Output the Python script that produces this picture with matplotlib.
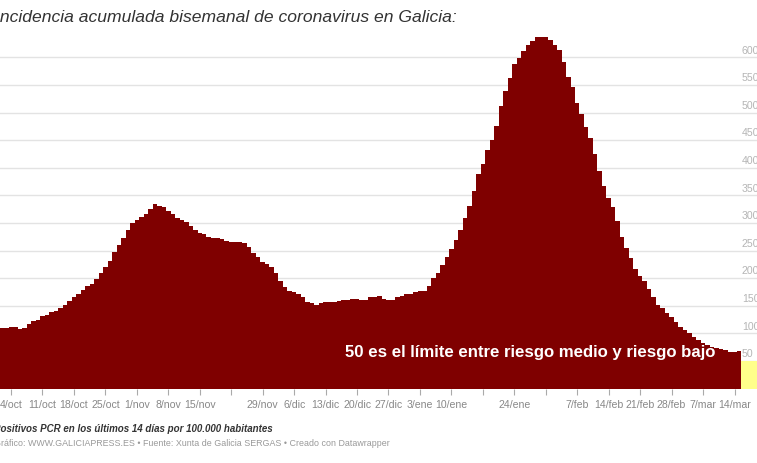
import matplotlib
matplotlib.use("Agg")
import matplotlib.pyplot as plt
import matplotlib.dates as mdates
import pandas as pd

plt.rcParams['font.family'] = ['Liberation Sans', 'DejaVu Sans']

W, H = 757, 463

# daily values, starting 2 Oct 2020
start_date = "2020-10-02"
incidencia = [
    110, 110, 112, 112, 108, 110, 116, 122, 125, 131,   # 2-11 oct
    134, 138, 140, 145, 151, 159, 165, 171, 178, 186,
    189, 199, 209, 221, 231, 247, 260, 272, 287, 299,
    305, 310, 316, 326, 334, 331, 329, 322, 316, 309,
    305, 301, 294, 287, 281, 279, 275, 272, 272, 270,
    267, 265, 265, 265, 263, 257, 245, 238, 230, 226,
    220, 209, 194, 184, 177, 175, 171, 165, 157, 154,
    152, 154, 156, 157, 157, 159, 160, 161, 162, 162,
    161, 160, 165, 166, 167, 162, 161, 160, 166, 168,
    171, 172, 175, 176, 177, 186, 200, 209, 224, 239,
    253, 269, 287, 308, 330, 357, 389, 407, 432, 451,
    476, 512, 539, 563, 587, 599, 612, 622, 630, 636,
    637, 636, 631, 623, 614, 591, 565, 546, 518, 497,
    473, 454, 424, 394, 366, 346, 328, 304, 275, 255,
    236, 216, 204, 195, 180, 165, 151, 145, 136, 129,
    120, 112, 106, 100, 93, 88, 83, 79, 76, 73,
    71, 69, 67, 67, 68,
]

tick_labels = ["4/oct", "11/oct", "18/oct", "25/oct", "1/nov", "8/nov", "15/nov",
               "", "29/nov", "6/dic", "13/dic", "20/dic", "27/dic", "3/ene",
               "10/ene", "", "24/ene", "", "7/feb", "14/feb", "21/feb", "28/feb",
               "7/mar", "14/mar"]
first_tick = "2020-10-04"
y_ticks = [50, 100, 150, 200, 250, 300, 350, 400, 450, 500, 550, 600]
umbral = 50

dates = pd.date_range(start_date, periods=len(incidencia), freq="D")
tick_dates = pd.date_range(first_tick, periods=len(tick_labels), freq="7D")

fig = plt.figure(figsize=(W / 100, H / 100), dpi=100)
ax = fig.add_axes([0, 74.5 / H, 1, 358.5 / H])

x0 = mdates.date2num(pd.Timestamp(first_tick))
ax.set_xlim(x0 - 2.45, x0 + 166.0)
ax.set_ylim(0, 358.5 / 0.552)

for v in y_ticks:
    ax.axhline(v, color="#e3e3e3", lw=1, zorder=0)

ax.axhspan(0, umbral, color="#ffff8a", zorder=1, lw=0)
ax.bar(dates, incidencia, width=1.0, color="#7f0000", linewidth=0,
       antialiased=False, zorder=2, align="center")

for s in ax.spines.values():
    s.set_visible(False)
ax.set_yticks([])
ax.set_xticks(tick_dates)
ax.set_xticklabels(tick_labels)
ax.tick_params(axis="x", length=4, width=0.8, color="#aaaaaa", labelcolor="#888888",
               labelsize=7.6, pad=4)

for v in y_ticks:
    ax.annotate(str(v), xy=(742 / W, v), xycoords=("axes fraction", "data"),
                xytext=(0, 6.6), textcoords="offset pixels",
                ha="left", va="center", color="#b5b5b5", fontsize=7.6)

ax.text(x0 + 115.5, 66, "50 es el límite entre riesgo medio y riesgo bajo",
        color="white", fontsize=12.1, fontweight="bold", ha="center",
        va="center", zorder=5)

fig.text(-5 / W, 1 - 18 / H, "Incidencia acumulada bisemanal de coronavirus en Galicia:",
         fontsize=12.6, style="italic", color="#333333", ha="left", va="center")
fig.text(-6 / W, 1 - 429 / H, "Positivos PCR en los últimos 14 días por 100.000 habitantes",
         fontsize=7.0, style="italic", fontweight="bold", color="#333333",
         ha="left", va="center")
fig.text(-6 / W, 1 - 443 / H,
         "Gráfico: WWW.GALICIAPRESS.ES • Fuente: Xunta de Galicia SERGAS • Creado con Datawrapper",
         fontsize=6.4, color="#999999", ha="left", va="center")

fig.savefig("out.png", dpi=100)
